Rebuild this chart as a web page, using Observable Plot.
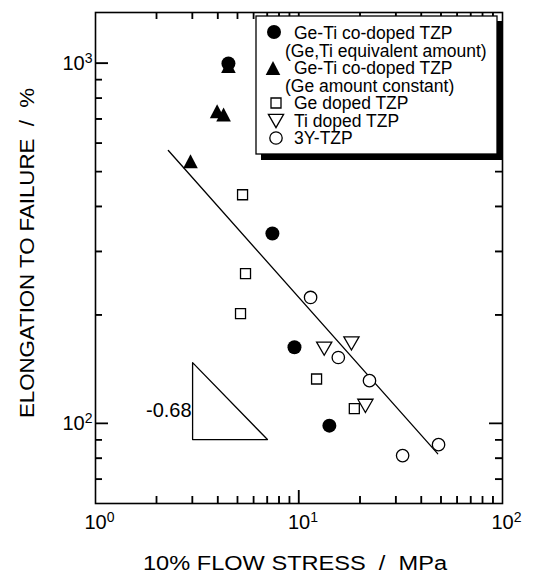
<!DOCTYPE html>
<html><head><meta charset="utf-8">
<script src="https://cdn.jsdelivr.net/npm/d3@7"></script>
<script src="https://cdn.jsdelivr.net/npm/@observablehq/plot@0.6"></script>
<style>
html,body{margin:0;padding:0;background:#fff;}
</style>
</head><body><div id="chart"></div>
<script>
// ---- tick values ----
const xTicksMajor = [1, 10, 100];
const yTicksMajor = [100, 1000];
const xTicksInner = [10];
const xTicksMinor = [2,3,4,5,6,7,8,9,20,30,40,50,60,70,80,90];
const yTicksMinor = [70,80,90,200,300,400,500,600,700,800,900];

// ---- series ----
const geTiEqX = [4.5, 7.4, 9.5, 14.1];
const geTiEqY = [1000, 337, 163, 98.7];
const geTiConstX = [2.93, 3.96, 4.26, 4.5];
const geTiConstY = [535, 737, 721, 984];
const geX = [5.28, 5.46, 5.16, 12.2, 18.7];
const geY = [432, 261, 202, 133, 110];
const tiX = [13.3, 18.1, 21.2];
const tiY = [161.5, 167, 112];
const y3X = [11.4, 15.6, 22.2, 32.3, 48.5];
const y3Y = [224, 152.6, 131.6, 81.5, 87.4];

// fitted line and slope triangle
const fitX = [2.28, 48];
const fitY = [573, 82.5];
const slopeX = [3, 3, 7, 3];
const slopeY = [147.7, 90.3, 90.3, 147.7];
const slopeLabel = "-0.68";
const slopeLabelX = 3;
const slopeLabelY = 108.7;

// texts
const xTitle = "10% FLOW STRESS  /  MPa";
const yTitle = "ELONGATION TO FAILURE  /  %";
const legendLines = [
  ["Ge-Ti co-doped TZP", "(Ge,Ti equivalent amount)"],
  ["Ge-Ti co-doped TZP", "(Ge amount constant)"],
  ["Ge doped TZP"],
  ["Ti doped TZP"],
  ["3Y-TZP"]
];

const pts = (xs, ys) => xs.map((x, i) => ({x, y: ys[i]}));

// symbols
const triUp = {draw(c){ const w=7.3, h=7; c.moveTo(0,-h); c.lineTo(w,h); c.lineTo(-w,h); c.closePath(); }};
const triDown = {draw(c){ const w=7.6, h=6.6; c.moveTo(-w,-h); c.lineTo(w,-h); c.lineTo(0,h); c.closePath(); }};
const sq = {draw(c){ const s=5; c.moveTo(-s,-s); c.lineTo(s,-s); c.lineTo(s,s); c.lineTo(-s,s); c.closePath(); }};
const circ = r => ({draw(c){ c.moveTo(r,0); c.arc(0,0,r,0,2*Math.PI); }});

const W = 533, H = 574, mL = 95, mR = 31, mT = 12, mB = 71;
const plotW = W - mL - mR, plotH = H - mT - mB;
const sup = d => "10^" + Math.round(Math.log10(d));
const font = "'Liberation Sans', Arial, Helvetica, sans-serif";
const sw = 1.3;

const plot = Plot.plot({
  width: W, height: H,
  marginLeft: mL, marginRight: mR, marginTop: mT, marginBottom: mB,
  x: {type: "log", domain: [1, 100]},
  y: {type: "log", domain: [60, 1385]},
  marks: [
    Plot.frame({strokeWidth: 1.6}),
    Plot.axisX({anchor: "bottom", ticks: xTicksMajor, tickSize: 0, tickPadding: 11, tickFormat: sup, fontSize: 20, label: null}),
    Plot.axisY({anchor: "left", ticks: yTicksMajor, tickSize: 0, tickPadding: 3, tickFormat: sup, fontSize: 20, label: null}),
    // inward ticks (bottom, top, left, right)
    Plot.tickX(xTicksMinor, {x: d => d, insetTop: plotH - 7, stroke: "black", strokeWidth: sw}),
    Plot.tickX(xTicksMinor, {x: d => d, insetBottom: plotH - 7, stroke: "black", strokeWidth: sw}),
    Plot.tickX(xTicksInner, {x: d => d, insetTop: plotH - 13, stroke: "black", strokeWidth: sw}),
    Plot.tickX(xTicksInner, {x: d => d, insetBottom: plotH - 13, stroke: "black", strokeWidth: sw}),
    Plot.tickY(yTicksMinor, {y: d => d, insetRight: plotW - 7, stroke: "black", strokeWidth: sw}),
    Plot.tickY(yTicksMinor, {y: d => d, insetLeft: plotW - 7, stroke: "black", strokeWidth: sw}),
    Plot.tickY(yTicksMajor, {y: d => d, insetRight: plotW - 13, stroke: "black", strokeWidth: sw}),
    Plot.tickY(yTicksMajor, {y: d => d, insetLeft: plotW - 13, stroke: "black", strokeWidth: sw}),
    Plot.line(pts(fitX, fitY), {x: "x", y: "y", strokeWidth: sw}),
    Plot.line(pts(slopeX, slopeY), {x: "x", y: "y", strokeWidth: sw}),
    Plot.text([slopeLabel], {x: () => slopeLabelX, y: () => slopeLabelY, text: d => d, textAnchor: "end", dx: -1, fontSize: 20}),
    Plot.dot(pts(geX, geY), {x: "x", y: "y", symbol: sq, fill: "white", stroke: "black", strokeWidth: sw}),
    Plot.dot(pts(tiX, tiY), {x: "x", y: "y", symbol: triDown, fill: "white", stroke: "black", strokeWidth: sw}),
    Plot.dot(pts(y3X, y3Y), {x: "x", y: "y", symbol: circ(6.2), fill: "white", stroke: "black", strokeWidth: sw}),
    Plot.dot(pts(geTiConstX, geTiConstY), {x: "x", y: "y", symbol: triUp, fill: "black", stroke: "none"}),
    Plot.dot(pts(geTiEqX, geTiEqY), {x: "x", y: "y", symbol: circ(7), fill: "black", stroke: "none"})
  ]
});
document.getElementById("chart").append(plot);
const svg = d3.select(plot);
svg.style("font-family", font);

// superscript tick labels
try {
  svg.selectAll('[aria-label="x-axis tick label"] text, [aria-label="y-axis tick label"] text').each(function() {
    const s = this.textContent;
    if (!s.includes("^")) return;
    const t = d3.select(this);
    const [base, exp] = s.split("^");
    t.text(null);
    t.append("tspan").text(base);
    t.append("tspan").attr("dy", "-0.5em").attr("font-size", "14px").text(exp);
  });
  svg.selectAll('[aria-label="x-axis tick label"] text').each(function() {
    if (this.textContent.length < 3) return;
    const full = this.getComputedTextLength();
    const base = this.getSubStringLength(0, 2);
    d3.select(this).attr("dx", (full - base) / 2);
  });
} catch (e) {}

// inward ticks also as one path through Plot's own scales
try {
  const sx = plot.scale("x"), sy = plot.scale("y");
  const frameL = mL, frameR = W - mR, frameT = mT, frameB = H - mB;
  const tickD = [];
  const addX = (vals, len) => vals.forEach(v => { const p = sx.apply(v); if (isFinite(p)) tickD.push(`M${p},${frameB}v${-len}`, `M${p},${frameT}v${len}`); });
  const addY = (vals, len) => vals.forEach(v => { const p = sy.apply(v); if (isFinite(p)) tickD.push(`M${frameL},${p}h${len}`, `M${frameR},${p}h${-len}`); });
  addX(xTicksMinor, 7);
  addX(xTicksInner, 13);
  addY(yTicksMinor, 7);
  addY(yTicksMajor, 13);
  svg.append("path").attr("d", tickD.join("")).attr("fill", "none").attr("stroke", "black").attr("stroke-width", sw);
} catch (e) {}

// axis titles
svg.append("text").attr("x", 295).attr("y", 563).attr("dy", "0.35em")
  .attr("text-anchor", "middle").attr("font-size", 20).attr("fill", "black").style("white-space", "pre")
  .attr("textLength", 304).attr("lengthAdjust", "spacingAndGlyphs").text(xTitle);
svg.append("text").attr("transform", "translate(27,253) rotate(-90)").attr("dy", "0.35em")
  .attr("text-anchor", "middle").attr("font-size", 20).attr("fill", "black").style("white-space", "pre")
  .attr("textLength", 330).attr("lengthAdjust", "spacingAndGlyphs").text(yTitle);

// legend
const lg = svg.append("g").attr("font-size", 17.5).attr("fill", "black").attr("text-anchor", "start");
lg.append("rect").attr("x", 261).attr("y", 21).attr("width", 241).attr("height", 139).attr("fill", "black");
lg.append("rect").attr("x", 256).attr("y", 16).attr("width", 241).attr("height", 138).attr("fill", "white").attr("stroke", "black").attr("stroke-width", sw);
const legSyms = [
  {sym: circ(7), fill: "black", stroke: "none", x: 274, y: 32},
  {sym: triUp, fill: "black", stroke: "none", x: 273, y: 68},
  {sym: sq, fill: "white", stroke: "black", x: 276, y: 103},
  {sym: triDown, fill: "white", stroke: "black", x: 276, y: 121},
  {sym: circ(6.2), fill: "white", stroke: "black", x: 276, y: 138}
];
const lineY = [33, 50.5, 68, 85.5, 103, 120.5, 138];
let li = 0;
legendLines.forEach((lines, k) => {
  const s = legSyms[k];
  const p = d3.path(); s.sym.draw(p);
  lg.append("path").attr("d", p.toString()).attr("transform", `translate(${s.x},${s.y})`)
    .attr("fill", s.fill).attr("stroke", s.stroke).attr("stroke-width", sw);
  lines.forEach((txt, j) => {
    lg.append("text").attr("x", j === 0 ? 294 : 285).attr("y", lineY[li]).attr("dy", "0.35em").text(txt);
    li++;
  });
});
</script>
</body></html>
